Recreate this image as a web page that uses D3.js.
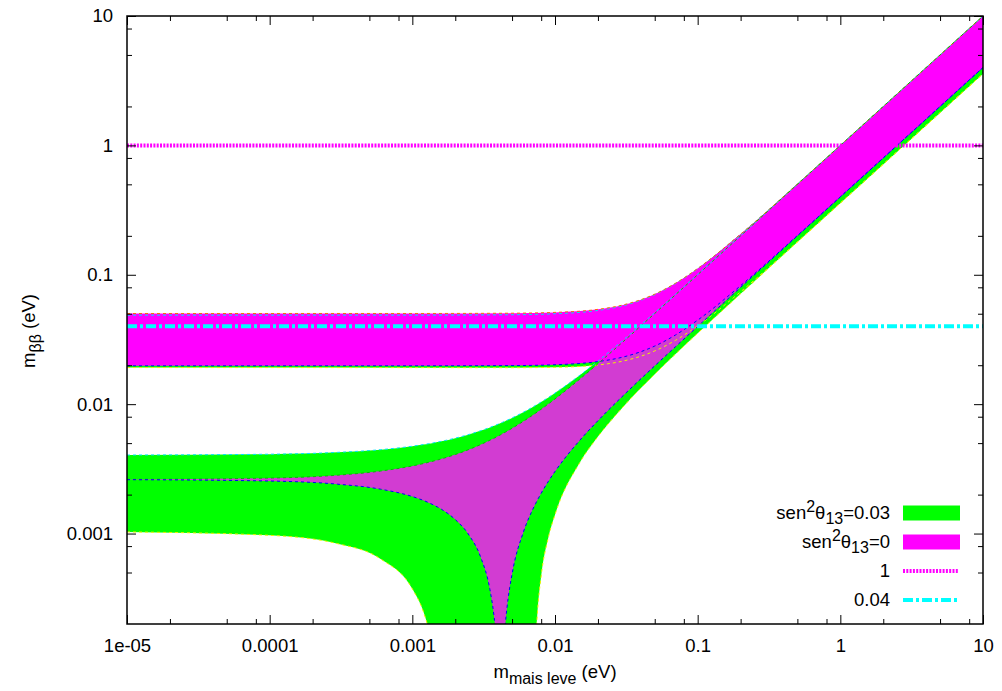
<!DOCTYPE html>
<html>
<head>
<meta charset="UTF-8">
<title>m_bb vs m_mais leve</title>
<script src="https://cdn.jsdelivr.net/npm/d3@7"></script>
<style>
    body { margin: 0; padding: 0; background: #ffffff; }
    svg { display: block; font-family: "Liberation Sans", Arial, Helvetica, sans-serif; }
    .axis text { font-size: 18.5px; fill: #000; font-family: "Liberation Sans", Arial, Helvetica, sans-serif; }
    .axis line { stroke: #000; stroke-width: 1; }
    .label { font-size: 18.5px; fill: #000; }
</style>
</head>
<body>
<script>
    // eixo x: massa mais leve (eV)
    const xMajor = [1e-5, 1e-4, 1e-3, 0.01, 0.1, 1, 10];
    const xLabels = ["1e-05", "0.0001", "0.001", "0.01", "0.1", "1", "10"];
    const yMajor = [0.001, 0.01, 0.1, 1, 10];
    const yLabels = ["0.001", "0.01", "0.1", "1", "10"];
    const minorSteps = [2, 5, 8];

    // hierarquia invertida
    const ihMass = [1e-5, 1e-3, 5e-3, 0.01, 0.02, 0.03, 0.05, 0.07, 0.1, 0.2, 0.5, 1, 2, 5, 10];
    const ihGreenHi = [0.04872, 0.04876, 0.04911, 0.04998, 0.05304, 0.05765, 0.07025, 0.08567, 0.1115, 0.2060, 0.5024, 1.0012, 2.0006, 5.0002, 10.0];
    const ihGreenLo = [0.01918, 0.01916, 0.01913, 0.01927, 0.02009, 0.02154, 0.02578, 0.03115, 0.04028, 0.07394, 0.1799, 0.3585, 0.7162, 1.790, 3.580];
    const ihMagHi = [0.05023, 0.05024, 0.05047, 0.05121, 0.05406, 0.05850, 0.07087, 0.08616, 0.1119, 0.2062, 0.5025, 1.0013, 2.0006, 5.0003, 10.0];
    const ihMagLo = [0.01977, 0.01978, 0.01987, 0.02017, 0.02133, 0.02313, 0.02812, 0.03428, 0.04462, 0.08241, 0.2010, 0.4005, 0.8003, 2.0001, 4.000];

    // hierarquia normal
    const nhMass = [1e-5, 1e-4, 3e-4, 6e-4, 1e-3, 1.2e-3, 1.3e-3, 1.4e-3, 1.5e-3, 1.6e-3,
        2e-3, 2.5e-3, 3e-3, 3.5e-3, 3.7e-3, 3.8e-3, 4e-3, 4.13e-3, 4.3e-3, 4.5e-3,
        4.6e-3, 5e-3, 6e-3, 7e-3, 7.3e-3, 7.5e-3, 8e-3, 9e-3, 0.01, 0.015,
        0.02, 0.03, 0.05, 0.07, 0.1, 0.2, 0.5, 1, 2, 5, 10];
    const nhGreenHi = [0.004044, 0.004105, 0.004242, 0.004450, 0.004733, 0.004876, 0.004948, 0.005021, 0.005093, 0.005166,
        0.005462, 0.005839, 0.006223, 0.006614, 0.006772, 0.006852, 0.007012, 0.007117, 0.007254, 0.007417,
        0.007498, 0.007827, 0.008664, 0.009521, 0.009781, 0.009956, 0.01039, 0.01128, 0.01218, 0.01680,
        0.02154, 0.03121, 0.05084, 0.07064, 0.1005, 0.2002, 0.5001, 1.0000, 2.000, 5.000, 10.0];
    const nhGreenLo = [0.001030, 0.000969, 0.000835, 0.000636, 0.000374, 0.000246, 0.000182, 0.000118, 0.000055, 0,
        0, 0, 0, 0, 0, 0, 0, 0, 0, 0,
        0, 0, 0, 0, 0.000132, 0.000229, 0.000470, 0.000941, 0.001400, 0.003570,
        0.005616, 0.009530, 0.01706, 0.02442, 0.03534, 0.07136, 0.1789, 0.3580, 0.716, 1.790, 3.580];
    const nhMagHi = [0.002622, 0.002686, 0.002827, 0.003042, 0.003333, 0.003480, 0.003554, 0.003629, 0.003704, 0.003779,
        0.004083, 0.004471, 0.004866, 0.005268, 0.005431, 0.005513, 0.005678, 0.005785, 0.005926, 0.006093,
        0.006177, 0.006515, 0.007375, 0.008254, 0.008521, 0.008700, 0.009150, 0.01006, 0.01098, 0.01570,
        0.02055, 0.03037, 0.05023, 0.07016, 0.1001, 0.2001, 0.5000, 1.0000, 2.000, 5.000, 10.0];
    const nhMagLo = [0.002608, 0.002546, 0.002407, 0.002202, 0.001933, 0.001800, 0.001734, 0.001669, 0.001604, 0.001540,
        0.001283, 0.000971, 0.000666, 0.000368, 0.000251, 0.000193, 0.000078, 0, 0.000094, 0.000207,
        0.000263, 0.000485, 0.001025, 0.001546, 0.001699, 0.001800, 0.002050, 0.002541, 0.003020, 0.005295,
        0.007455, 0.01163, 0.01977, 0.02784, 0.03989, 0.07994, 0.2000, 0.4000, 0.800, 2.000, 4.000];

    // linhas horizontais de referencia
    const refLevels = [1, 0.04];
    const refNames = ["1", "0.04"];

    const width = 1002, height = 691;
    const margin = {top: 16, right: 19, bottom: 67, left: 127};

    const svg = d3.select("body").append("svg")
        .attr("width", width)
        .attr("height", height);

    const x = d3.scaleLog()
        .domain([1e-5, 10])
        .range([margin.left, width - margin.right]);

    const y = d3.scaleLog()
        .domain([2e-4, 10])
        .range([height - margin.bottom, margin.top]);

    const floorVal = 1e-6;   // zero fica fora do grafico

    svg.append("clipPath").attr("id", "plotClip")
        .append("rect")
        .attr("x", x.range()[0])
        .attr("y", y.range()[1])
        .attr("width", x.range()[1] - x.range()[0])
        .attr("height", y.range()[0] - y.range()[1]);

    const plot = svg.append("g").attr("clip-path", "url(#plotClip)");

    function rows(mass, lo, hi) {
        return mass.map(function(m, i) { return {m: m, lo: Math.max(lo[i], floorVal), hi: Math.max(hi[i], floorVal)}; });
    }

    const area = d3.area()
        .x(d => x(d.m))
        .y0(d => y(d.lo))
        .y1(d => y(d.hi))
        .curve(d3.curveMonotoneX);

    const edge = key => d3.line()
        .x(d => x(d.m))
        .y(d => y(d[key]))
        .curve(d3.curveMonotoneX);

    const ihGreen = rows(ihMass, ihGreenLo, ihGreenHi);
    const nhGreen = rows(nhMass, nhGreenLo, nhGreenHi);
    const ihMag = rows(ihMass, ihMagLo, ihMagHi);
    const nhMag = rows(nhMass, nhMagLo, nhMagHi);

    plot.append("path").datum(nhGreen).attr("d", area).attr("fill", "#00ff00");
    plot.append("path").datum(ihGreen).attr("d", area).attr("fill", "#00ff00");
    plot.append("path").datum(nhMag).attr("d", area).attr("fill", "#d23cd2");
    plot.append("path").datum(ihMag).attr("d", area).attr("fill", "#ff00ff");

    // bordas tracejadas das faixas
    const edges = [
        [ihGreen, "hi", "#00e0ff"], [ihGreen, "lo", "#f0f000"],
        [nhGreen, "hi", "#00e0ff"], [nhGreen, "lo", "#f0f000"],
        [ihMag, "hi", "#ff6a00"], [ihMag, "lo", "#0000ff"],
        [nhMag, "hi", "#00c000"], [nhMag, "lo", "#0000ff"]
    ];
    edges.forEach(function(e) {
        plot.append("path").datum(e[0])
            .attr("d", edge(e[1]))
            .attr("fill", "none")
            .attr("stroke", e[2])
            .attr("stroke-width", 1)
            .attr("stroke-dasharray", "3,3");
    });

    const refStyles = [
        {color: "#ff00ff", dash: "2,1.3"},
        {color: "#00ffff", dash: "10,3,3,3"}
    ];

    plot.selectAll(".ref")
        .data(refLevels)
        .join("line")
        .attr("class", "ref")
        .attr("x1", x.range()[0])
        .attr("x2", x.range()[1])
        .attr("y1", d => y(d))
        .attr("y2", d => y(d))
        .attr("stroke", (d, i) => refStyles[i].color)
        .attr("stroke-width", 4)
        .attr("stroke-dasharray", (d, i) => refStyles[i].dash);

    // eixos
    const minorX = [], minorY = [];
    xMajor.forEach(v => minorSteps.forEach(s => { if (v * s < 10) minorX.push(v * s); }));
    [1e-4].concat(yMajor).forEach(v => minorSteps.forEach(s => { const t = v * s; if (t > 2e-4 && t < 10) minorY.push(t); }));

    const yBottom = y.range()[0], yTop = y.range()[1];
    const xLeft = x.range()[0], xRight = x.range()[1];

    function styleAxis(g) {
        g.select(".domain").remove();
        g.attr("font-size", null).attr("font-family", null);
    }

    svg.append("g").attr("class", "axis")
        .attr("transform", "translate(0," + yBottom + ")")
        .call(d3.axisBottom(x).tickValues(xMajor).tickFormat((d, i) => xLabels[i]).tickSize(-9).tickPadding(15))
        .call(styleAxis);
    svg.append("g").attr("class", "axis")
        .attr("transform", "translate(0," + yBottom + ")")
        .call(d3.axisBottom(x).tickValues(minorX).tickFormat("").tickSize(-5))
        .call(styleAxis);
    svg.append("g").attr("class", "axis")
        .attr("transform", "translate(0," + yTop + ")")
        .call(d3.axisTop(x).tickValues(xMajor).tickFormat("").tickSize(-9))
        .call(styleAxis);
    svg.append("g").attr("class", "axis")
        .attr("transform", "translate(0," + yTop + ")")
        .call(d3.axisTop(x).tickValues(minorX).tickFormat("").tickSize(-5))
        .call(styleAxis);

    svg.append("g").attr("class", "axis")
        .attr("transform", "translate(" + xLeft + ",0)")
        .call(d3.axisLeft(y).tickValues(yMajor).tickFormat((d, i) => yLabels[i]).tickSize(-9).tickPadding(14))
        .call(styleAxis);
    svg.append("g").attr("class", "axis")
        .attr("transform", "translate(" + xLeft + ",0)")
        .call(d3.axisLeft(y).tickValues(minorY).tickFormat("").tickSize(-5))
        .call(styleAxis);
    svg.append("g").attr("class", "axis")
        .attr("transform", "translate(" + xRight + ",0)")
        .call(d3.axisRight(y).tickValues(yMajor).tickFormat("").tickSize(-9))
        .call(styleAxis);
    svg.append("g").attr("class", "axis")
        .attr("transform", "translate(" + xRight + ",0)")
        .call(d3.axisRight(y).tickValues(minorY).tickFormat("").tickSize(-5))
        .call(styleAxis);

    svg.append("rect")
        .attr("x", xLeft).attr("y", yTop)
        .attr("width", xRight - xLeft).attr("height", yBottom - yTop)
        .attr("fill", "none").attr("stroke", "#000").attr("stroke-width", 1.5);

    // titulos dos eixos
    const xTitle = svg.append("text").attr("class", "label")
        .attr("x", (xLeft + xRight) / 2).attr("y", 678)
        .attr("text-anchor", "middle");
    xTitle.append("tspan").text("m");
    xTitle.append("tspan").attr("dy", 6).attr("font-size", 16).text("mais leve");
    xTitle.append("tspan").attr("dy", -6).text(" (eV)");

    const yTitle = svg.append("text").attr("class", "label")
        .attr("transform", "translate(35,331) rotate(-90)")
        .attr("text-anchor", "middle");
    yTitle.append("tspan").text("m");
    yTitle.append("tspan").attr("dy", 6).attr("font-size", 16).text("ββ");
    yTitle.append("tspan").attr("dy", -6).text(" (eV)");

    // legenda
    const legendX = 890, legendY0 = 513, legendStep = 29;
    const legendKeys = [
        {s13: "0.03", fill: "#00ff00"},
        {s13: "0", fill: "#ff00ff"}
    ];

    legendKeys.forEach(function(k, i) {
        const cy = legendY0 + i * legendStep;
        const t = svg.append("text").attr("class", "label")
            .attr("x", legendX).attr("y", cy + 6)
            .attr("text-anchor", "end");
        t.append("tspan").text("sen");
        t.append("tspan").attr("dy", -7).attr("font-size", 16).text("2");
        t.append("tspan").attr("dy", 7).text("θ");
        t.append("tspan").attr("dy", 5).attr("font-size", 16).text("13");
        t.append("tspan").attr("dy", -5).text("=" + k.s13);
        svg.append("rect")
            .attr("x", 903).attr("y", cy - 7.5)
            .attr("width", 57).attr("height", 15)
            .attr("fill", k.fill);
    });

    refNames.forEach(function(name, i) {
        const cy = legendY0 + (i + 2) * legendStep;
        svg.append("text").attr("class", "label")
            .attr("x", legendX).attr("y", cy + 6)
            .attr("text-anchor", "end")
            .text(name);
        svg.append("line")
            .attr("x1", 903).attr("x2", 958)
            .attr("y1", cy).attr("y2", cy)
            .attr("stroke", refStyles[i].color)
            .attr("stroke-width", 4)
            .attr("stroke-dasharray", refStyles[i].dash);
    });
</script>
</body>
</html>
